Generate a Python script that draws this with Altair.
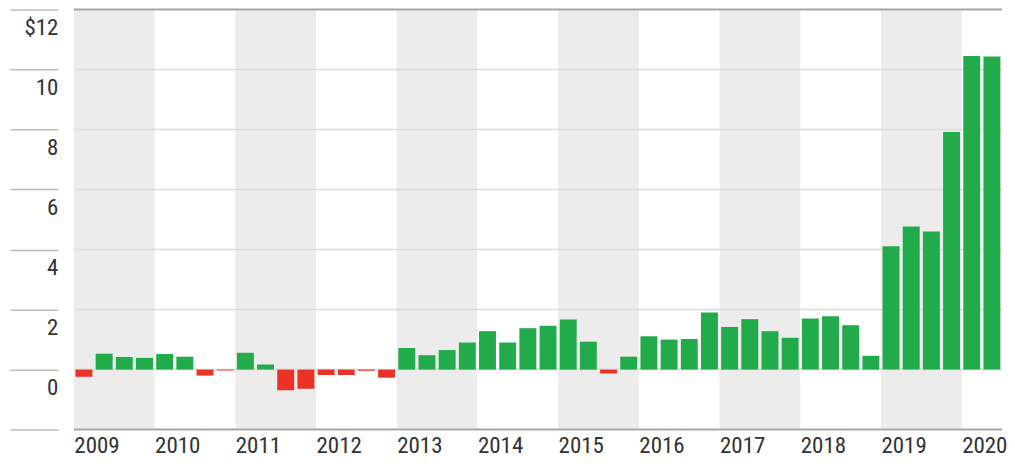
import altair as alt
import pandas as pd

# ---- data ----
years = [2009, 2010, 2011, 2012, 2013, 2014, 2015, 2016, 2017, 2018, 2019, 2020]
quarters = ["Q1", "Q2", "Q3", "Q4"]
values = [
    -0.24, 0.53, 0.42, 0.39,    # 2009
    0.52, 0.43, -0.20, -0.03,   # 2010
    0.56, 0.17, -0.69, -0.64,   # 2011
    -0.18, -0.18, -0.04, -0.27, # 2012
    0.72, 0.48, 0.65, 0.90,     # 2013
    1.28, 0.90, 1.38, 1.46,     # 2014
    1.67, 0.93, -0.13, 0.43,    # 2015
    1.11, 1.00, 1.02, 1.90,     # 2016
    1.42, 1.68, 1.28, 1.06,     # 2017
    1.70, 1.78, 1.48, 0.46,     # 2018
    4.11, 4.77, 4.60, 7.92,     # 2019
    10.45, 10.43,               # 2020
]
y_ticks = [-2, 0, 2, 4, 6, 8, 10, 12]
y_tick_labels = ["", "0", "2", "4", "6", "8", "10", "$12"]
frame_values = [-2, 12]

GREEN = "#22ab4b"
RED = "#ea3327"
BAND = "#ececec"
GRID = "#dcdcdc"
FRAME = "#a9a9a9"
TEXT = "#333333"
FONT = "Liberation Sans Narrow, Roboto Condensed, Arial Narrow, sans-serif"

labels = [f"{years[i // 4]} {quarters[i % 4]}" for i in range(len(values))]
bars_df = pd.DataFrame({"q": list(range(len(values))), "value": values, "quarter": labels})

band_df = pd.DataFrame({
    "year": [y for k, y in enumerate(years) if k % 2 == 0],
    "start": [4 * k for k, y in enumerate(years) if k % 2 == 0],
})
grid_df = pd.DataFrame({"v": y_ticks})
frame_df = pd.DataFrame({"v": frame_values})

n_q = len(values)
x_scale = alt.Scale(domain=[0, n_q], nice=False, zero=False)
y_scale = alt.Scale(domain=[y_ticks[0], y_ticks[-1]], nice=False, zero=False)

label_map = "{" + ",".join(f"'{v}':'{l}'" for v, l in zip(y_ticks, y_tick_labels)) + "}"

x_axis = alt.Axis(
    values=[4 * k for k in range(len(years))],
    labelExpr=f"'' + ({years[0]} + datum.value / 4)",
    ticks=False, domain=False, grid=False, title=None,
    labelAlign="left", labelBaseline="top", labelPadding=5,
    labelFont=FONT, labelFontSize=23, labelColor=TEXT,
    labelFlush=False, labelBound=False, labelOverlap=False,
)
y_axis = alt.Axis(
    values=y_ticks,
    labelExpr=f"{label_map}[''+datum.value]",
    domain=False, grid=False, title=None,
    ticks=True, tickSize=48, tickColor="#bdbdbd", tickWidth=1.5,
    offset=16, labelPadding=-48, labelAlign="right",
    labelBaseline="middle", labelOffset=18,
    labelFont=FONT, labelFontSize=23, labelColor=TEXT,
)

bands = alt.Chart(band_df).transform_calculate(end="datum.start + 4").mark_rect(color=BAND).encode(
    x=alt.X("start:Q", scale=x_scale, axis=x_axis),
    x2="end:Q",
    y=alt.value(0),
    y2=alt.value(421),
)

grid = alt.Chart(grid_df).mark_rule(color=GRID, strokeWidth=1.5).encode(
    y=alt.Y("v:Q", scale=y_scale, axis=y_axis),
)

frame = alt.Chart(frame_df).mark_rule(color=FRAME, strokeWidth=2).encode(
    y=alt.Y("v:Q", scale=y_scale),
)

bars = alt.Chart(bars_df).transform_calculate(
    x0="datum.q + 0.08", x1="datum.q + 0.92", base="0"
).mark_rect().encode(
    x=alt.X("x0:Q", scale=x_scale),
    x2="x1:Q",
    y=alt.Y("value:Q", scale=y_scale),
    y2="base:Q",
    color=alt.condition(alt.datum.value < 0, alt.value(RED), alt.value(GREEN)),
    tooltip=["quarter:N", "value:Q"],
)

chart = alt.layer(bands, grid, frame, bars).properties(
    width=930, height=421,
    padding={"left": 1, "top": 0, "right": 0, "bottom": 0},
    background="white",
).configure_view(stroke=None)

chart.save("out.html", embed_options={"renderer": "svg", "actions": False})
